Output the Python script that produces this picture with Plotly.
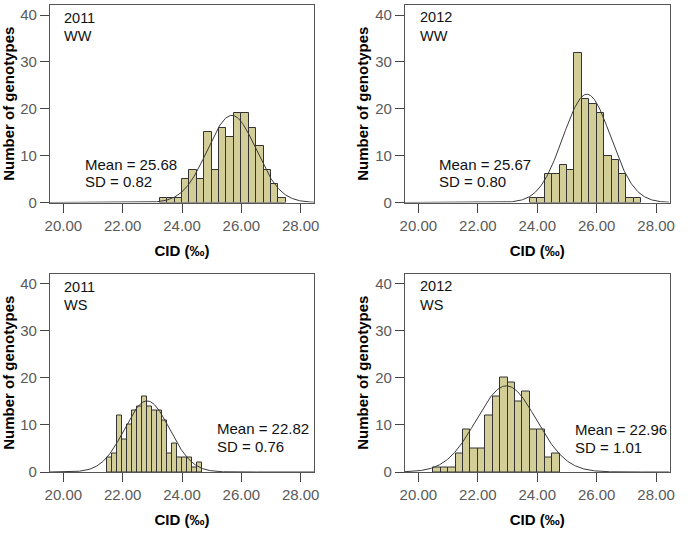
import numpy as np
import plotly.graph_objects as go

# ---- data ----
panel_year = ["2011", "2012", "2011", "2012"]
panel_trt = ["WW", "WW", "WS", "WS"]
panel_mean = [25.68, 25.67, 22.82, 22.96]
panel_sd = [0.82, 0.80, 0.76, 1.01]
curve_peak = [18.6, 23.1, 15.1, 18.3]   # height of the fitted normal curve

bin_start = [23.25, 23.75, 21.47, 20.5]
bin_width = [0.25, 0.25, 0.168, 0.25]
counts_2011_ww = [1, 1, 1, 5, 7, 5, 15, 7, 16, 14, 19, 19, 16, 12, 7, 4, 1]
counts_2012_ww = [1, 1, 6, 6, 8, 7, 32, 22, 21, 19, 10, 9, 6, 1, 1]
counts_2011_ws = [3, 4, 12, 7, 10, 13, 14, 16, 14, 13, 13, 11, 4, 6, 3, 3, 3, 1, 2]
counts_2012_ws = [1, 1, 1, 4, 9, 5, 5, 12, 16, 20, 19, 15, 17, 9, 9, 3, 4]
panel_counts = [counts_2011_ww, counts_2012_ww, counts_2011_ws, counts_2012_ws]

x_tick_vals = [20, 22, 24, 26, 28]
x_tick_text = ["20.00", "22.00", "24.00", "26.00", "28.00"]
y_tick_vals = [0, 10, 20, 30, 40]
x_title = "CID (‰)"
y_title = "Number of genotypes"

# ---- layout geometry ----
W, H = 688, 546
x_dom = [[50 / W, 314 / W], [405 / W, 669.5 / W], [50 / W, 314 / W], [405 / W, 669.5 / W]]
y_dom = [[1 - 202.5 / H, 1 - 5 / H], [1 - 202.5 / H, 1 - 5 / H],
         [1 - 472 / H, 1 - 273.5 / H], [1 - 472 / H, 1 - 273.5 / H]]
x_range = [19.55, 28.45]
y_range = [0, 42.15]
label_pos = [(12, 13, 31.5), (13, 12.5, 31), (12, 13, 31.5), (13, 12.5, 31)]
stat_pos = [(32.7, 38.5, 21), (31.7, 38.5, 21), (165, 44, 25.5), (168, 43, 25)]

FONT = "Arial, 'Liberation Sans', sans-serif"
BAR_FILL = "#D3CE97"
EDGE = "#333333"

fig = go.Figure()
annotations = []
layout_axes = {}

for i in range(4):
    n = "" if i == 0 else str(i + 1)
    xa, ya = "x" + n, "y" + n
    cnt = panel_counts[i]
    w = bin_width[i]
    centers = [bin_start[i] + w * (k + 0.5) for k in range(len(cnt))]
    fig.add_trace(go.Bar(
        x=centers, y=cnt, width=[w] * len(cnt), xaxis=xa, yaxis=ya,
        marker=dict(color=BAR_FILL, line=dict(color=EDGE, width=1)),
        showlegend=False, hoverinfo="x+y"))
    xs = np.linspace(x_range[0], x_range[1], 400)
    ys = curve_peak[i] * np.exp(-((xs - panel_mean[i]) ** 2) / (2 * panel_sd[i] ** 2))
    fig.add_trace(go.Scatter(
        x=xs, y=ys, mode="lines", xaxis=xa, yaxis=ya,
        line=dict(color="#3a3a3a", width=1), showlegend=False, hoverinfo="skip"))

    layout_axes["xaxis" + n] = dict(
        domain=x_dom[i], anchor=ya, range=x_range, tickmode="array",
        tickvals=x_tick_vals, ticktext=x_tick_text, ticks="outside", ticklen=9,
        tickwidth=1.2, tickcolor="#444", showline=True, mirror=True,
        linecolor="#555", linewidth=1.3, showgrid=False, zeroline=False,
        tickfont=dict(family=FONT, size=15, color="#5a5a5a"),
        title=dict(text="<b>" + x_title + "</b>", standoff=12,
                   font=dict(family=FONT, size=15, color="#000")))
    layout_axes["yaxis" + n] = dict(
        domain=y_dom[i], anchor=xa, range=y_range, tickmode="array",
        tickvals=y_tick_vals, ticks="outside", ticklen=9, tickwidth=1.2,
        tickcolor="#444", showline=True, mirror=True, linecolor="#555",
        linewidth=1.3, showgrid=False, zeroline=False,
        tickfont=dict(family=FONT, size=15, color="#5a5a5a"),
        title=dict(text="<b>" + y_title + "</b>", standoff=2,
                   font=dict(family=FONT, size=15, color="#000")))

    lx, ly1, ly2 = label_pos[i]
    for txt, dy in ((panel_year[i], ly1), (panel_trt[i], ly2)):
        annotations.append(dict(
            xref=xa + " domain", yref=ya + " domain", x=0, y=1, xshift=lx, yshift=-dy,
            xanchor="left", yanchor="middle", showarrow=False, text=txt,
            font=dict(family=FONT, size=14.5, color="#111")))
    sx, sy1, sy2 = stat_pos[i]
    for txt, dy in (("Mean = %.2f" % panel_mean[i], sy1), ("SD = %.2f" % panel_sd[i], sy2)):
        annotations.append(dict(
            xref=xa + " domain", yref=ya + " domain", x=0, y=0, xshift=sx, yshift=dy,
            xanchor="left", yanchor="middle", showarrow=False, text=txt,
            font=dict(family=FONT, size=15, color="#111")))

fig.update_layout(
    template="none", width=W, height=H, margin=dict(l=0, r=0, t=0, b=0),
    paper_bgcolor="white", plot_bgcolor="white", bargap=0,
    font=dict(family=FONT), annotations=annotations, **layout_axes)

fig.write_html("out.html")
